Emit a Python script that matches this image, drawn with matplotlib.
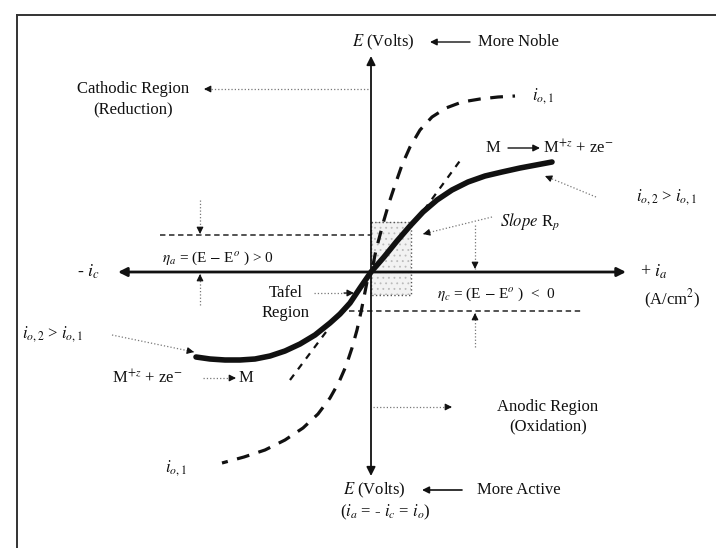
import matplotlib
matplotlib.use("Agg")
import matplotlib.pyplot as plt
import numpy as np
from matplotlib.patches import Rectangle

plt.rcParams['font.family'] = ['Liberation Serif', 'DejaVu Serif']
plt.rcParams['mathtext.fontset'] = 'stix'
plt.rcParams['hatch.linewidth'] = 0.6

# ---- data (schematic curve traces, in picture units, y downward) ----
solid_x = [196, 210, 225, 240, 255, 270, 285, 300, 315, 330, 340, 350, 360, 371,
           384, 397, 410, 423, 437, 452, 468, 485, 502, 520, 536, 552]
solid_y = [357, 359, 360, 360, 359, 356, 351, 344, 335, 323, 314, 303, 288, 272,
           257, 241, 226, 212, 200, 190, 182, 176, 172, 168, 165, 162]

dash_up_x = [373, 376, 380, 384, 389, 395, 402, 410, 420, 432, 446, 462, 480, 498, 515]
dash_up_y = [265, 250, 235, 220, 203, 185, 165, 147, 130, 117, 108, 102, 99, 97, 96]

dash_lo_x = [367, 364, 361, 357, 352, 346, 339, 330, 318, 303, 285, 265, 244, 222]
dash_lo_y = [282, 297, 312, 330, 348, 366, 382, 398, 414, 428, 440, 450, 457, 463]

tafel_up_x = [424, 462]
tafel_up_y = [210, 158]
tafel_lo_x = [326, 290]
tafel_lo_y = [332, 380]

W, H = 716, 548
fig = plt.figure(figsize=(W / 100, H / 100), dpi=100)
ax = fig.add_axes([0, 0, 1, 1])
ax.set_xlim(0, W)
ax.set_ylim(H, 0)
ax.axis('off')

K = '#111111'
FS = 12

# border
ax.plot([17, W], [15, 15], color='#333333', lw=1.4)
ax.plot([17, 17], [15, H], color='#333333', lw=1.4)

def arrow(x0, y0, x1, y1, lw=1.0, ls='-', color=K, ms=10):
    if ls == '-':
        ax.annotate('', xy=(x1, y1), xytext=(x0, y0),
                    arrowprops=dict(arrowstyle='-|>', lw=lw, color=color,
                                    mutation_scale=ms, shrinkA=0, shrinkB=0))
    else:
        ax.plot([x0, x1], [y0, y1], color='#777777', lw=lw, ls=ls)
        d = np.hypot(x1 - x0, y1 - y0)
        ux, uy = (x1 - x0) / d, (y1 - y0) / d
        ax.annotate('', xy=(x1, y1), xytext=(x1 - ux * 6, y1 - uy * 6),
                    arrowprops=dict(arrowstyle='-|>', lw=0.8, color=K,
                                    mutation_scale=ms, shrinkA=0, shrinkB=0))

# axes
ax.annotate('', xy=(371, 56), xytext=(371, 476),
            arrowprops=dict(arrowstyle='<|-|>', lw=1.3, color=K,
                            mutation_scale=13, shrinkA=0, shrinkB=0))
ax.annotate('', xy=(118, 272), xytext=(626, 272),
            arrowprops=dict(arrowstyle='<|-|>', lw=2.0, color=K,
                            mutation_scale=13, shrinkA=0, shrinkB=0))

# Tafel box
ax.add_patch(Rectangle((371, 222), 40, 73, facecolor='#f2f2f2', edgecolor='#bbbbbb',
                       lw=0, hatch='...', zorder=1))
ax.add_patch(Rectangle((371, 222), 40, 73, facecolor='none', edgecolor='#555555',
                       lw=1.0, ls=':', zorder=2))

# overpotential lines
ax.plot([160, 371], [235, 235], color='#444444', lw=1.3, ls=(0, (3, 2)))
ax.plot([340, 583], [311, 311], color='#444444', lw=1.3, ls=(0, (3, 2)))

# curves
ax.plot(solid_x, solid_y, color=K, lw=4.0, solid_capstyle='round',
        solid_joinstyle='round', zorder=5)
ax.plot(dash_up_x, dash_up_y, color=K, lw=2.3, ls=(0, (4, 3)), zorder=4)
ax.plot(dash_lo_x, dash_lo_y, color=K, lw=2.3, ls=(0, (4, 3)), zorder=4)
ax.plot(tafel_up_x, tafel_up_y, color=K, lw=1.6, ls=(0, (3, 3)), zorder=4)
ax.plot(tafel_lo_x, tafel_lo_y, color=K, lw=1.6, ls=(0, (3, 3)), zorder=4)

# overpotential arrows
arrow(200, 200, 200, 234, lw=0.9, ls=':')
arrow(200, 305, 200, 274, lw=0.9, ls=':')
arrow(475, 225, 475, 269, lw=0.9, ls=':')
arrow(475, 347, 475, 313, lw=0.9, ls=':')

# labels / annotations
ax.text(352, 42, r'$E$ (Volts)', fontsize=FS, ha='left', va='center', color=K)
arrow(470, 42, 430, 42, lw=1.0)
ax.text(478, 42, 'More Noble', fontsize=FS, ha='left', va='center', color=K)

ax.text(133, 89, 'Cathodic Region', fontsize=FS, ha='center', va='center', color=K)
ax.text(133, 109, '(Reduction)', fontsize=FS, ha='center', va='center', color=K)
arrow(368, 89, 204, 89, lw=0.9, ls=':')

ax.text(532, 96, r'$i_{o,1}$', fontsize=FS, ha='left', va='center', color=K)

ax.text(486, 148, 'M', fontsize=FS, ha='left', va='center', color=K)
arrow(508, 148, 540, 148, lw=1.0)
ax.text(543, 148, r'M$^{+z}$ + ze$^{-}$', fontsize=FS, ha='left', va='center', color=K)

ax.text(636, 197, r'$i_{o,2}$ > $i_{o,1}$', fontsize=FS, ha='left', va='center', color=K)
arrow(596, 197, 545, 176, lw=0.9, ls=':')

ax.text(500, 222, r'$Slope$ R$_p$', fontsize=FS, ha='left', va='center', color=K)
arrow(492, 217, 423, 234, lw=0.9, ls=':')

ax.text(162, 258, r'$\eta_a$ = (E $-$ E$^{o}$ ) > 0', fontsize=FS - 1, ha='left',
        va='center', color=K)
ax.text(100, 272, r'- $i_c$', fontsize=FS + 1, ha='right', va='center', color=K)
ax.text(640, 272, r'+ $i_a$', fontsize=FS + 1, ha='left', va='center', color=K)
ax.text(672, 299, r'(A/cm$^2$)', fontsize=FS, ha='center', va='center', color=K)

ax.text(286, 293, 'Tafel', fontsize=FS, ha='center', va='center', color=K)
ax.text(286, 313, 'Region', fontsize=FS, ha='center', va='center', color=K)
ax.plot([314, 348], [293, 293], color='#777777', lw=0.9, ls=':')
arrow(344, 293, 354, 293, lw=0.9)

ax.text(437, 294, r'$\eta_c$ = (E $-$ E$^{o}$ )  <  0', fontsize=FS - 1, ha='left',
        va='center', color=K)

ax.text(22, 334, r'$i_{o,2}$ > $i_{o,1}$', fontsize=FS, ha='left', va='center', color=K)
arrow(112, 335, 194, 352, lw=0.9, ls=':')

ax.text(112, 378, r'M$^{+z}$ + ze$^{-}$', fontsize=FS, ha='left', va='center', color=K)
arrow(203, 378, 236, 378, lw=0.9, ls=':')
ax.text(239, 378, 'M', fontsize=FS, ha='left', va='center', color=K)

arrow(373, 407, 452, 407, lw=0.9, ls=':')
ax.text(548, 407, 'Anodic Region', fontsize=FS, ha='center', va='center', color=K)
ax.text(548, 426, '(Oxidation)', fontsize=FS, ha='center', va='center', color=K)

ax.text(176, 468, r'$i_{o,1}$', fontsize=FS, ha='center', va='center', color=K)

ax.text(343, 490, r'$E$ (Volts)', fontsize=FS, ha='left', va='center', color=K)
arrow(462, 490, 422, 490, lw=1.2)
ax.text(477, 490, 'More Active', fontsize=FS, ha='left', va='center', color=K)
ax.text(385, 512, r'($i_a$ = - $i_c$ = $i_o$)', fontsize=FS, ha='center', va='center',
        color=K)

fig.savefig('out.png', dpi=100)
